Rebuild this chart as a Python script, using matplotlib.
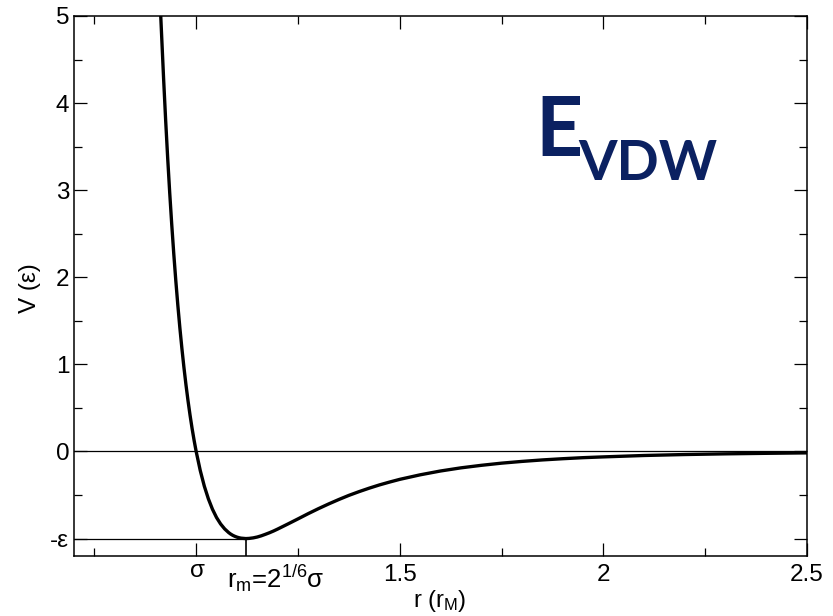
import matplotlib
matplotlib.use('Agg')
import matplotlib.pyplot as plt

plt.rcParams['font.family'] = ['Liberation Sans', 'DejaVu Sans']
plt.rcParams['mathtext.fontset'] = 'custom'
plt.rcParams['mathtext.rm'] = 'Liberation Sans'
plt.rcParams['mathtext.it'] = 'Liberation Sans:italic'

# Lennard-Jones curve (r in sigma units, V in epsilon)
r_vals = [0.91, 0.913, 0.92, 0.925, 0.93, 0.935, 0.94, 0.945, 0.95, 0.955, 0.96,
          0.965, 0.97, 0.975, 0.98, 0.985, 0.99, 0.995, 1.0, 1.01, 1.02, 1.03,
          1.04, 1.05, 1.06, 1.07, 1.08, 1.085, 1.09, 1.095, 1.10, 1.105, 1.11,
          1.122, 1.13, 1.14, 1.15, 1.16, 1.17, 1.18, 1.19, 1.2, 1.225, 1.25,
          1.275, 1.3, 1.325, 1.35, 1.375, 1.4, 1.425, 1.45, 1.475, 1.5, 1.55,
          1.6, 1.65, 1.7, 1.75, 1.8, 1.85, 1.9, 1.95, 2.0, 2.1, 2.2, 2.3, 2.4, 2.5]
v_vals = [5.36, 5.0, 4.283, 3.809, 3.373, 2.973, 2.607, 2.270, 1.961, 1.678, 1.418,
          1.181, 0.963, 0.764, 0.582, 0.416, 0.264, 0.126, 0.0, -0.218, -0.398, -0.544,
          -0.663, -0.758, -0.832, -0.889, -0.932, -0.949, -0.963, -0.974, -0.983, -0.990, -0.995,
          -1.0, -0.998, -0.992, -0.982, -0.968, -0.951, -0.933, -0.913, -0.891, -0.833, -0.774,
          -0.714, -0.657, -0.603, -0.552, -0.504, -0.461, -0.421, -0.384, -0.351, -0.320, -0.268,
          -0.224, -0.188, -0.159, -0.134, -0.114, -0.097, -0.083, -0.071, -0.062, -0.046, -0.035, -0.027, -0.021, -0.016]

r_min = 1.122
x_ticks = [1.0, 1.5, 2.0, 2.5]
x_labels = ['', '1.5', '2', '2.5']
y_ticks = [-1, 0, 1, 2, 3, 4, 5]
y_labels = ['-ε', '0', '1', '2', '3', '4', '5']

W, H = 833, 616
fig = plt.figure(figsize=(W / 100, H / 100), dpi=100)
ax = fig.add_axes([74 / W, (H - 556) / H, (807 - 74) / W, (556 - 16) / H])

ax.axhline(0, color='black', lw=0.9)
ax.plot([0.7, r_min], [-1, -1], color='black', lw=0.9)
ax.plot([r_min, r_min], [-1.2, -1], color='black', lw=1.2)
ax.plot(r_vals, v_vals, color='black', lw=2.4)

ax.set_xlim(0.7, 2.5)
ax.set_ylim(-1.2, 5)
ax.set_xticks(x_ticks)
ax.set_xticklabels(x_labels)
ax.set_xticks([0.75, 1.25, 1.75, 2.25], minor=True)
ax.set_yticks(y_ticks)
ax.set_yticklabels(y_labels)
ax.set_yticks([-0.5, 0.5, 1.5, 2.5, 3.5, 4.5], minor=True)
ax.tick_params(which='both', direction='in', top=True, right=True, width=0.9, labelsize=17.5)
ax.tick_params(which='major', length=9.5)
ax.tick_params(which='minor', length=5.5)
ax.tick_params(axis='x', pad=6)
ax.tick_params(axis='y', pad=3.5)
for s in ax.spines.values():
    s.set_linewidth(1.1)

def px(x, y):
    return x / W, 1 - y / H

# sigma and r_m labels sit a bit off the normal tick label line
fig.text(*px(197, 577), 'σ', fontsize=17.5, ha='center', va='baseline')
fig.text(*px(227, 588), r'r$_\mathrm{m}$=2$^{\mathrm{1/6}}$σ', fontsize=18.5,
         ha='left', va='baseline')

fig.text(*px(440, 588), r'r (r$_\mathrm{M}$)', fontsize=17, ha='center', va='top')
fig.text(*px(30, 288), 'V (ε)', fontsize=17.5, rotation=90, ha='center', va='center')

navy = '#0b2161'
fig.text(*px(535, 156), 'E', fontsize=59, fontweight='bold', family='Lato',
         color=navy, ha='left', va='baseline')
fig.text(*px(578, 180), 'VDW', fontsize=40, fontweight='bold', family='Lato',
         color=navy, ha='left', va='baseline')

fig.savefig('out.png', dpi=100)
